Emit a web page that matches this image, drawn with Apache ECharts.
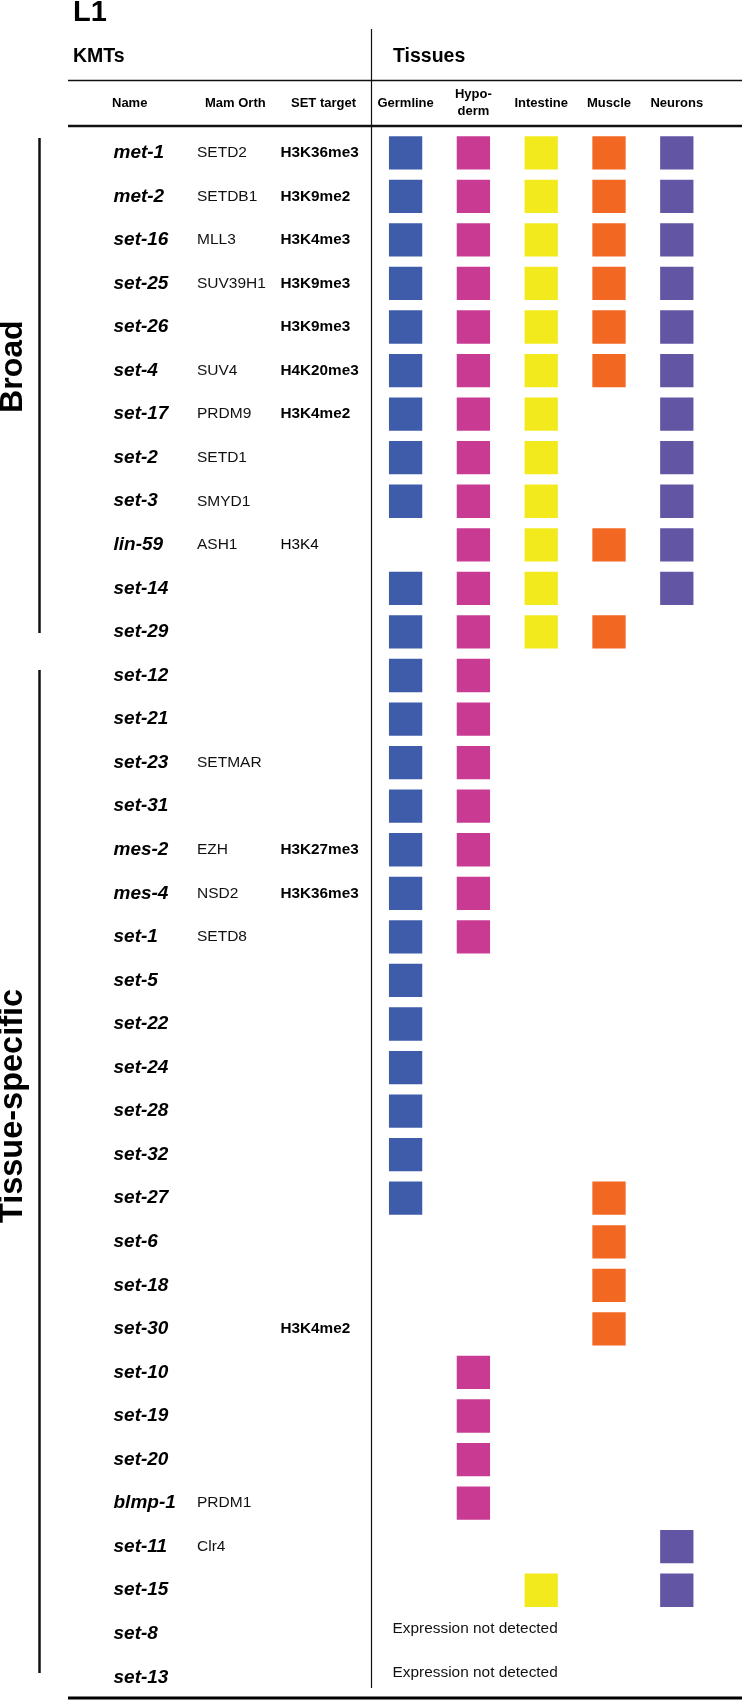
<!DOCTYPE html>
<html>
<head>
<meta charset="utf-8">
<script src="https://cdn.jsdelivr.net/npm/echarts@6/dist/echarts.min.js"></script>
<style>
  html, body { margin: 0; padding: 0; background: #fff; }
  #chart { width: 742px; height: 1702px; }
</style>
</head>
<body>
<div id="chart"></div>
<script>
// ---------------- data ----------------
const genes = ['met-1','met-2','set-16','set-25','set-26','set-4','set-17','set-2','set-3','lin-59','set-14','set-29',
  'set-12','set-21','set-23','set-31','mes-2','mes-4','set-1','set-5','set-22','set-24','set-28','set-32','set-27',
  'set-6','set-18','set-30','set-10','set-19','set-20','blmp-1','set-11','set-15','set-8','set-13'];
const mamOrth = ['SETD2','SETDB1','MLL3','SUV39H1','','SUV4','PRDM9','SETD1','SMYD1','ASH1','','',
  '','','SETMAR','','EZH','NSD2','SETD8','','','','','','',
  '','','','','','','PRDM1','Clr4','','',''];
const setTarget = ['H3K36me3','H3K9me2','H3K4me3','H3K9me3','H3K9me3','H4K20me3','H3K4me2','','','H3K4','','',
  '','','','','H3K27me3','H3K36me3','','','','','','','',
  '','','H3K4me2','','','','','','','',''];
const plainTargets = ['lin-59'];
const tissues = ['Germline','Hypo-\nderm','Intestine','Muscle','Neurons'];
const tableColumns = ['Name','Mam Orth','SET target'];
// expression per tissue, one flag per gene (same order as genes)
const germline  = [1,1,1,1,1,1,1,1,1,0,1,1, 1,1,1,1,1,1,1,1,1,1,1,1,1, 0,0,0,0,0,0,0,0,0,0,0];
const hypoderm  = [1,1,1,1,1,1,1,1,1,1,1,1, 1,1,1,1,1,1,1,0,0,0,0,0,0, 0,0,0,1,1,1,1,0,0,0,0];
const intestine = [1,1,1,1,1,1,1,1,1,1,1,1, 0,0,0,0,0,0,0,0,0,0,0,0,0, 0,0,0,0,0,0,0,0,1,0,0];
const muscle    = [1,1,1,1,1,1,0,0,0,1,0,1, 0,0,0,0,0,0,0,0,0,0,0,0,1, 1,1,1,0,0,0,0,0,0,0,0];
const neurons   = [1,1,1,1,1,1,1,1,1,1,1,0, 0,0,0,0,0,0,0,0,0,0,0,0,0, 0,0,0,0,0,0,0,1,1,0,0];
const notDetected = ['set-8','set-13'];
const notDetectedText = 'Expression not detected';

// ---------------- styles ----------------
const FONT = "'Liberation Sans', Arial, Helvetica, sans-serif";
const colors = ['#3F5CAA','#C93A92','#F3EA1D','#F26722','#6256A4'];
const exprSets = [germline, hypoderm, intestine, muscle, neurons];

const ROW_TOP = 131, ROW_H = 43.56;
const GRID_H = ROW_H * genes.length;

const tissueSeries = exprSets.map((arr, ti) => ({
  type: 'scatter',
  xAxisIndex: 0, yAxisIndex: 0,
  symbol: 'rect',
  symbolSize: [33.3, 33.3],
  itemStyle: { color: colors[ti], opacity: 1 },
  data: genes.map((g, gi) => arr[gi] ? [tissues[ti], g] : null).filter(Boolean),
  silent: true
}));

function textSeries(col, labelFn, extraLabel) {
  return {
    type: 'scatter',
    xAxisIndex: 1, yAxisIndex: 1,
    symbolSize: 1,
    itemStyle: { color: 'rgba(0,0,0,0)', opacity: 1 },
    data: genes.map((g, gi) => labelFn(gi) ? [col, g] : null).filter(Boolean),
    label: Object.assign({
      show: true,
      position: 'right',
      distance: 0,
      fontFamily: FONT,
      color: '#000',
      opacity: 1,
      formatter: p => labelFn(genes.indexOf(p.value[1]))
    }, extraLabel),
    silent: true
  };
}

const option = {
  animation: false,
  backgroundColor: '#fff',
  grid: [
    { left: 371.7, top: ROW_TOP, width: 339, height: GRID_H },
    { left: 113, top: ROW_TOP, width: 167, height: GRID_H }
  ],
  xAxis: [
    {
      gridIndex: 0, type: 'category', data: tissues, position: 'top',
      axisLine: { show: false }, axisTick: { show: false }, splitLine: { show: false },
      axisLabel: {
        interval: 0, margin: 28, verticalAlign: 'middle', lineHeight: 17,
        fontFamily: FONT, fontSize: 13, fontWeight: 'bold', color: '#000'
      }
    },
    { gridIndex: 1, type: 'category', data: tableColumns, boundaryGap: false, show: false }
  ],
  yAxis: [
    { gridIndex: 0, type: 'category', data: genes, inverse: true, show: false },
    { gridIndex: 1, type: 'category', data: genes, inverse: true, show: false }
  ],
  series: [
    ...tissueSeries,
    textSeries('Name', gi => genes[gi], { fontSize: 19, fontWeight: 'bold', fontStyle: 'italic' }),
    textSeries('Mam Orth', gi => mamOrth[gi], { fontSize: 15.5, color: '#111' }),
    textSeries('SET target', gi => setTarget[gi], { fontSize: 15.3, fontWeight: 'bold' }),
    {
      type: 'scatter',
      xAxisIndex: 0, yAxisIndex: 0,
      symbolSize: 1,
      itemStyle: { color: 'rgba(0,0,0,0)', opacity: 1 },
      data: notDetected.map(g => [tissues[0], g]),
      label: {
        show: true, position: 'right', distance: 0, offset: [-13.5, -5],
        formatter: notDetectedText,
        fontFamily: FONT, fontSize: 15.4, color: '#111', opacity: 1
      },
      silent: true
    }
  ],
  graphic: [
    // title & section headings
    { type: 'text', x: 73, y: 13, style: { text: 'L1', font: 'bold 29px ' + FONT, fill: '#000', textVerticalAlign: 'middle' } },
    { type: 'text', x: 73, y: 56.3, style: { text: 'KMTs', font: 'bold 19.5px ' + FONT, fill: '#000', textVerticalAlign: 'middle' } },
    { type: 'text', x: 393, y: 56.3, style: { text: 'Tissues', font: 'bold 19.5px ' + FONT, fill: '#000', textVerticalAlign: 'middle' } },
    { type: 'text', x: 112, y: 103.3, style: { text: tableColumns[0], font: 'bold 13px ' + FONT, fill: '#000', textVerticalAlign: 'middle' } },
    { type: 'text', x: 205, y: 103.3, style: { text: tableColumns[1], font: 'bold 13px ' + FONT, fill: '#000', textVerticalAlign: 'middle' } },
    { type: 'text', x: 291, y: 103.3, style: { text: tableColumns[2], font: 'bold 13px ' + FONT, fill: '#000', textVerticalAlign: 'middle' } },
    // group labels
    { type: 'text', x: 13, y: 366.7, rotation: Math.PI / 2,
      style: { text: 'Broad', font: 'bold 32px ' + FONT, fill: '#000', textAlign: 'center', textVerticalAlign: 'middle' } },
    { type: 'text', x: 13, y: 1106, rotation: Math.PI / 2,
      style: { text: 'Tissue-specific', font: 'bold 32.5px ' + FONT, fill: '#000', textAlign: 'center', textVerticalAlign: 'middle' } },
    // lines
    { type: 'line', shape: { x1: 371.5, y1: 29, x2: 371.5, y2: 1688 }, style: { stroke: '#111', lineWidth: 1.2 } },
    { type: 'line', shape: { x1: 68, y1: 80.5, x2: 742, y2: 80.5 }, style: { stroke: '#111', lineWidth: 1.5 } },
    { type: 'line', shape: { x1: 68, y1: 126, x2: 742, y2: 126 }, style: { stroke: '#111', lineWidth: 2.5 } },
    { type: 'line', shape: { x1: 68, y1: 1698, x2: 742, y2: 1698 }, style: { stroke: '#000', lineWidth: 3 } },
    { type: 'line', shape: { x1: 39.5, y1: 138, x2: 39.5, y2: 633 }, style: { stroke: '#111', lineWidth: 2.5 } },
    { type: 'line', shape: { x1: 39.5, y1: 670, x2: 39.5, y2: 1673 }, style: { stroke: '#111', lineWidth: 2.5 } }
  ]
};

// SET target weight: plain for listed genes
const targetSeries = option.series[tissueSeries.length + 2];
targetSeries.label.rich = { p: { fontWeight: 'normal', fontSize: 15.3, fontFamily: FONT, color: '#000' } };
targetSeries.label.formatter = p => {
  const g = p.value[1];
  const t = setTarget[genes.indexOf(g)];
  return plainTargets.includes(g) ? '{p|' + t + '}' : t;
};

const chart = echarts.init(document.getElementById('chart'), null, { renderer: 'canvas', width: 742, height: 1702 });
chart.setOption(option);
</script>
</body>
</html>
